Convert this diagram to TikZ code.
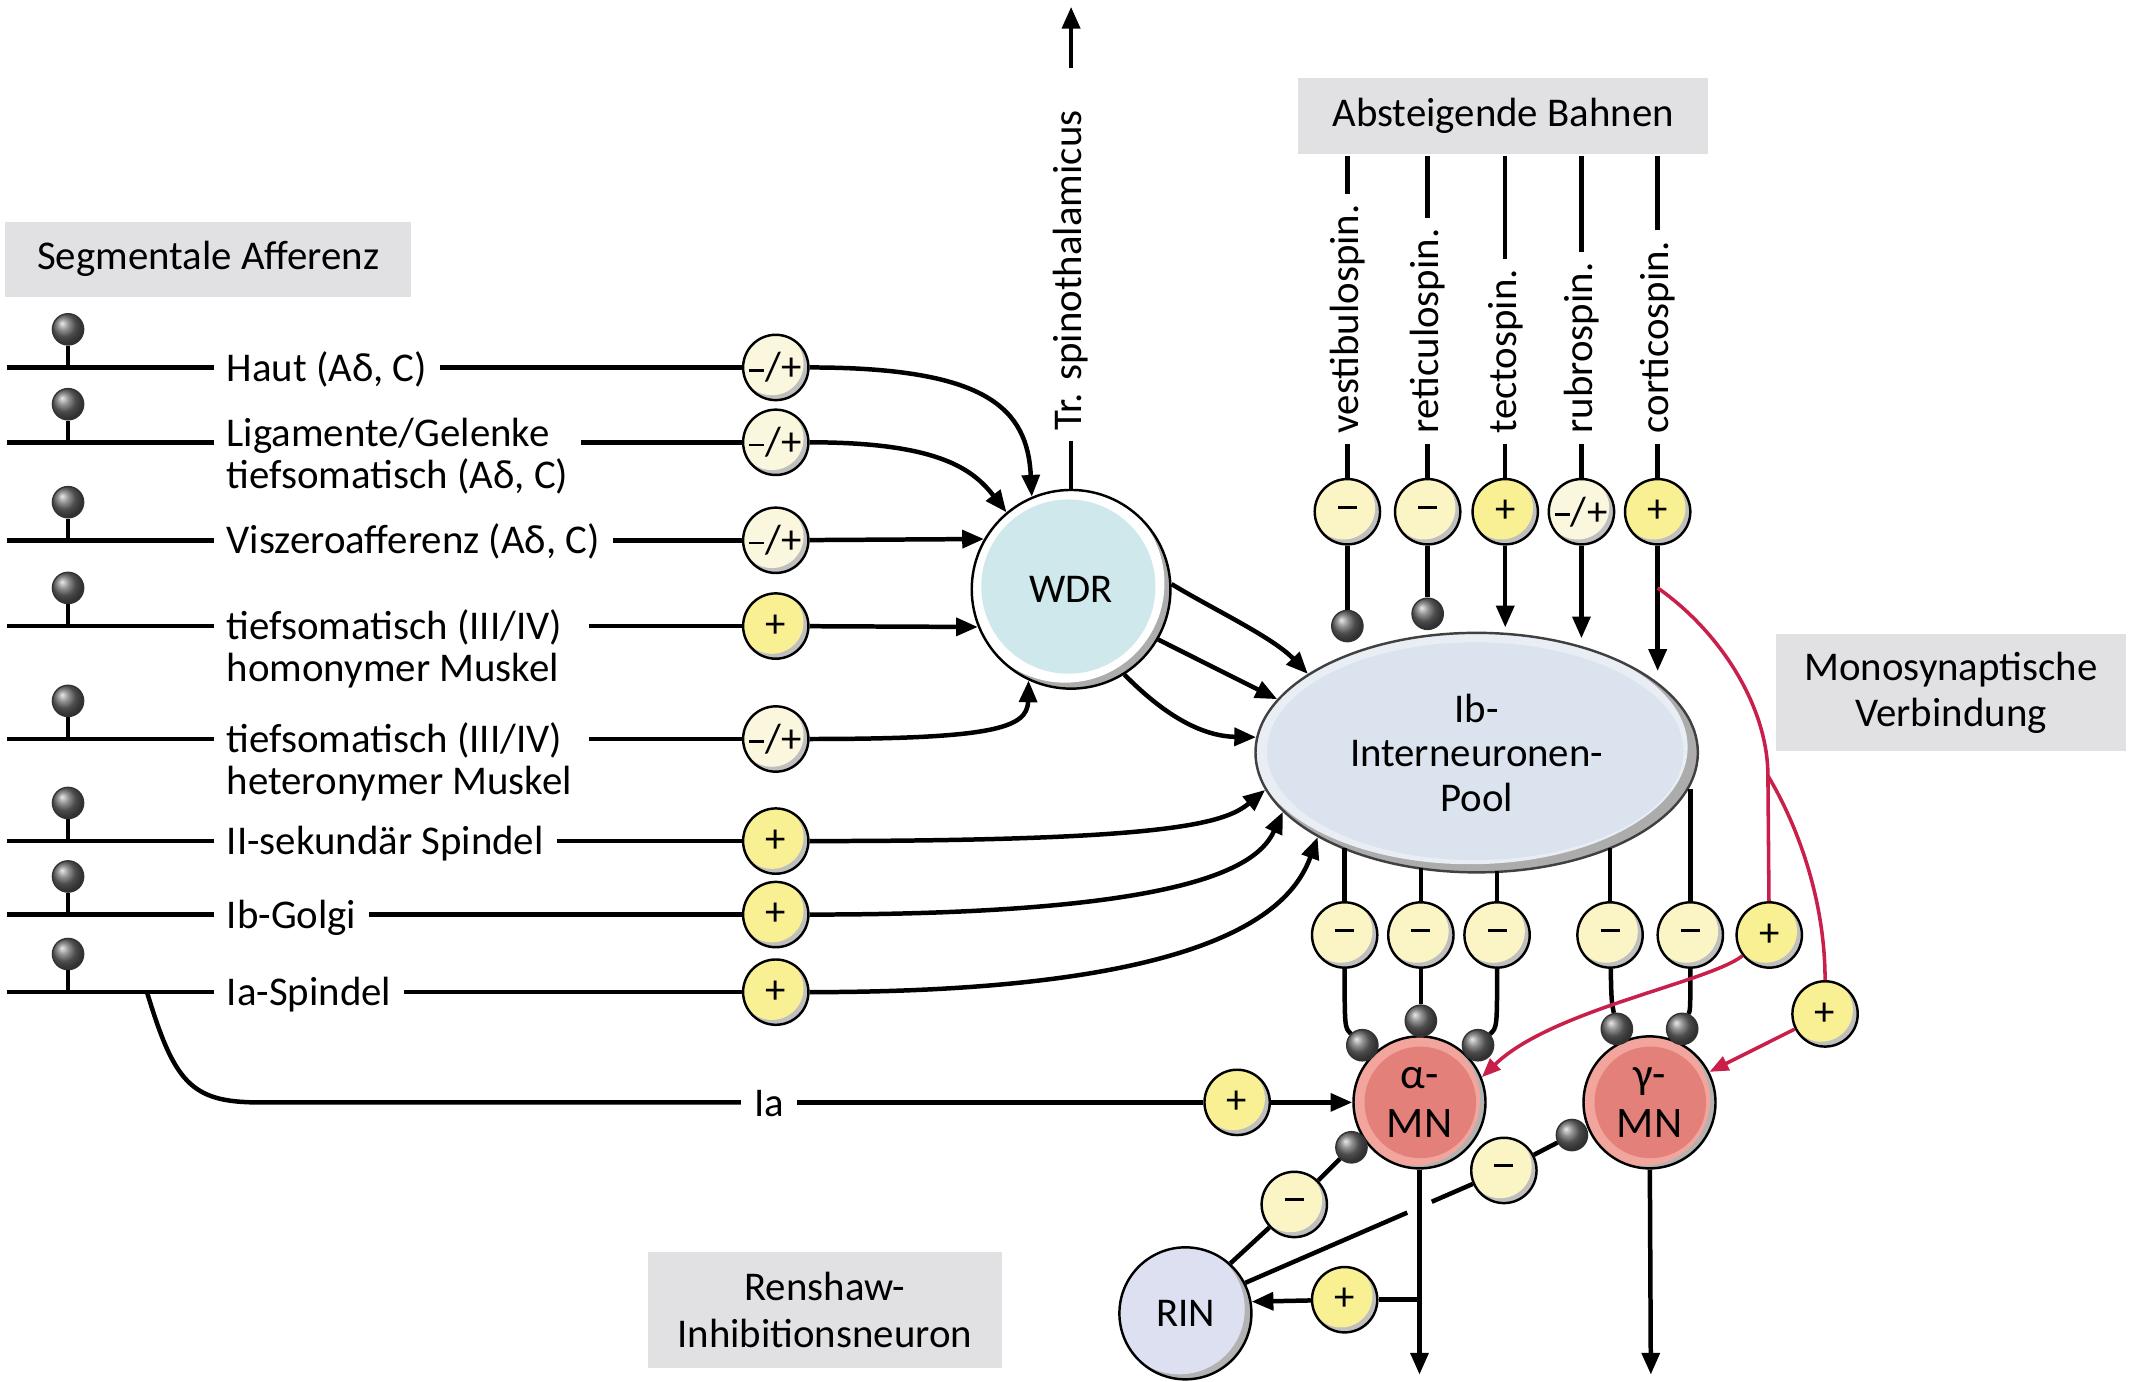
\documentclass[tikz,border=0pt]{standalone}
\usepackage{fontspec}
\setmainfont{Carlito}
\usetikzlibrary{arrows.meta,shapes.geometric,calc}
\definecolor{plusY}{HTML}{F9F093}
\definecolor{minusY}{HTML}{FBF5C6}
\definecolor{pmY}{HTML}{FBF7DE}
\definecolor{boxgray}{HTML}{E1E1E4}
\definecolor{wdrc}{HTML}{CFE8EB}
\definecolor{poolc}{HTML}{DAE3EE}
\definecolor{mnc}{HTML}{E3807A}
\definecolor{mnlight}{HTML}{F2A59C}
\definecolor{rinc}{HTML}{DCE0F1}
\definecolor{redc}{HTML}{C91F4B}
\newcommand\labf{\fontsize{15}{17}\selectfont}
\newcommand\poolf{\fontsize{15}{16.3}\selectfont}
\newcommand\symf{\fontsize{15}{15}\selectfont}
\newcommand\mnf{\fontsize{16}{18}\selectfont}
\newcommand\mnsign{\rule[3.4pt]{7pt}{1.1pt}}
\newcommand\pmsign{\rule[3.4pt]{5.5pt}{1pt}\kern0.3pt/\kern0.3pt+}
\begin{document}
\begin{tikzpicture}[x=0.5pt,y=-0.5pt,line width=1.65pt,
  lab/.style={font=\labf, inner xsep=4pt, inner ysep=0pt, anchor=base west},
  tract/.style={font=\labf, rotate=90, anchor=west, inner xsep=3pt, inner ysep=0pt},
  gbox/.style={fill=boxgray, align=center, font=\labf, inner sep=0pt},
  syn/.style={circle, draw=black, line width=0.9pt, minimum size=24pt, inner sep=0pt, font=\symf, fill=gray!50,
    path picture={\fill[#1] ($(path picture bounding box.center)+(-1.4pt,1.4pt)$) circle (11.6pt);}},
  sp/.style={syn=plusY},
  sm/.style={syn=minusY},
  spm/.style={syn=pmY},
  knob/.style={circle, minimum size=11.5pt, inner sep=0pt, shading=ball, ball color=gray!85!black, draw=black!80, line width=0.5pt},
  arr/.style={-{Triangle[length=8pt,width=6.5pt]}},
  redl/.style={draw=redc, line width=1.3pt},
  redarr/.style={draw=redc, line width=1.3pt, -{Triangle[length=7pt,width=5.5pt]}, color=redc},
  wdrs/.style={circle, draw=black, line width=0.9pt, minimum size=73pt, inner sep=0pt, font=\labf, fill=gray!65,
    path picture={\fill[white] ($(path picture bounding box.center)+(-2.2pt,2.2pt)$) circle (36.5pt);
      \fill[wdrc] ($(path picture bounding box.center)+(-1pt,1pt)$) circle (32pt);}},
  pools/.style={ellipse, draw=black!75, line width=0.9pt, minimum width=162.5pt, minimum height=88pt, inner sep=0pt,
    font=\poolf, align=center, fill=gray!65,
    path picture={\fill[poolc!60!white] ($(path picture bounding box.center)+(-2.5pt,2pt)$) ellipse [x radius=80pt, y radius=43pt];
      \fill[poolc] ($(path picture bounding box.center)+(-0.5pt,0.5pt)$) ellipse [x radius=76.5pt, y radius=40pt];}},
  mns/.style={circle, draw=black, line width=0.9pt, minimum size=48.5pt, inner sep=0pt, font=\mnf, align=center, fill=gray!60,
    path picture={\fill[mnlight] ($(path picture bounding box.center)+(-2pt,1pt)$) circle (24.25pt);
      \fill[mnc] ($(path picture bounding box.center)+(0.3pt,0pt)$) circle (20.5pt);}},
  rins/.style={circle, draw=black, line width=0.9pt, minimum size=48.5pt, inner sep=0pt, font=\labf, fill=gray!60,
    path picture={\fill[rinc] ($(path picture bounding box.center)+(-2.2pt,1.6pt)$) circle (24pt);}}
]
\useasboundingbox (0,0) rectangle (1568,1015);

% grey label boxes
\node[gbox, minimum width=149pt, minimum height=27.5pt] (bSeg) at (153,190.5) {Segmentale Afferenz};
\node[gbox, minimum width=150.5pt, minimum height=28pt] (bAbs) at (1104.5,85) {Absteigende Bahnen};
\node[gbox, minimum width=128.5pt, minimum height=43pt] (bMono) at (1433.5,509) {Monosynaptische\\Verbindung};
\node[gbox, minimum width=130pt, minimum height=42.5pt] (bRen) at (606,962.5) {Renshaw-\\Inhibitionsneuron};

% main neurons
\node[wdrs] (WDR) at (787,433) {WDR};
\node[pools] (Ib) at (1085,553) {Ib-\\Interneuronen-\\Pool};
\node[mns] (aMN) at (1043,810) {α-\\MN};
\node[mns] (gMN) at (1212,810) {γ-\\MN};
\node[rins] (RIN) at (871,965) {RIN};

% afferent rows
\coordinate (a1) at (5,270);
\coordinate (a2) at (5,325);
\coordinate (a3) at (5,397);
\coordinate (a4) at (5,460);
\coordinate (a5) at (5,543);
\coordinate (a6) at (5,618);
\coordinate (a7) at (5,672);
\coordinate (a8) at (5,729);
\node[knob] (k1) at (50,242) {};
\node[knob] (k2) at (50,297) {};
\node[knob] (k3) at (50,369) {};
\node[knob] (k4) at (50,432) {};
\node[knob] (k5) at (50,515) {};
\node[knob] (k6) at (50,590) {};
\node[knob] (k7) at (50,644) {};
\node[knob] (k8) at (50,701) {};
\node[lab] (t1) at (157,280) {Haut (Aδ, C)};
\node[lab] (t2) at (157,328) {Ligamente/Gelenke};
\node[lab] (t2b) at (157,359) {tiefsomatisch (Aδ, C)};
\node[lab] (t3) at (157,407) {Viszeroafferenz (Aδ, C)};
\node[lab] (t4) at (157,470) {tiefsomatisch (III/IV)};
\node[lab] (t4b) at (157,501) {homonymer Muskel};
\node[lab] (t5) at (157,553) {tiefsomatisch (III/IV)};
\node[lab] (t5b) at (157,584) {heteronymer Muskel};
\node[lab] (t6) at (157,628) {II-sekundär Spindel};
\node[lab] (t7) at (157,682) {Ib-Golgi};
\node[lab] (t8) at (157,739) {Ia-Spindel};
\node[spm] (s1) at (570,270) {\pmsign};
\node[spm] (s2) at (570,325) {\pmsign};
\node[spm] (s3) at (570,397) {\pmsign};
\node[sp] (s4) at (570,460) {+};
\node[spm] (s5) at (570,543) {\pmsign};
\node[sp] (s6) at (570,618) {+};
\node[sp] (s7) at (570,672) {+};
\node[sp] (s8) at (570,729) {+};
\foreach \i in {1,...,8}{
  \draw (a\i) -- (a\i -| t\i.west);
  \draw (k\i) -- (k\i |- a\i);
}
\draw (t1.east |- a1) -- (s1);
\draw (t2b.east |- a2) -- (s2);
\draw (t3.east |- a3) -- (s3);
\draw ([xshift=5pt]t4.east |- a4) -- (s4);
\draw ([xshift=5pt]t5.east |- a5) -- (s5);
\draw (t6.east |- a6) -- (s6);
\draw (t7.east |- a7) -- (s7);
\draw (t8.east |- a8) -- (s8);

% afferents into WDR
\draw[arr] (s1) .. controls (725,270) and (755,300) .. (WDR.113);
\draw[arr] (s2) .. controls (690,325) and (715,345) .. (WDR.130);
\draw[arr] (s3) -- (WDR.150);
\draw[arr] (s4) -- (WDR.202);
\draw[arr] (s5) .. controls (730,543) and (755,535) .. (WDR.245);
% afferents into Ib pool
\draw[arr] (s6) .. controls (860,618) and (900,605) .. (Ib.190);
\draw[arr] (s7) .. controls (880,672) and (925,635) .. (Ib.197);
\draw[arr] (s8) .. controls (900,729) and (950,665) .. (Ib.208);
% WDR to Ib pool
\draw[arr] (WDR.3) .. controls (890,447) and (935,468) .. (Ib.155);
\draw[arr] (WDR.-30) -- (Ib.165);
\draw[arr] (WDR.-58) .. controls (858,528) and (885,541) .. (Ib.176);

% Tr. spinothalamicus
\node[tract] (tr) at (787,324) {Tr. spinothalamicus};
\draw (WDR.north) -- (tr.west);
\coordinate (tra) at (787,50);
\coordinate (trb) at (787,5);
\draw[arr] (tra) -- (trb);

% descending tracts
\node[tract] (v1) at (990,326) {vestibulospin.};
\node[tract] (v2) at (1049,326) {reticulospin.};
\node[tract] (v3) at (1106,326) {tectospin.};
\node[tract] (v4) at (1162,326) {rubrospin.};
\node[tract] (v5) at (1218,326) {corticospin.};
\node[sm] (d1) at (990,376) {\mnsign};
\node[sm] (d2) at (1049,376) {\mnsign};
\node[sp] (d3) at (1106,376) {+};
\node[spm] (d4) at (1162,376) {\pmsign};
\node[sp] (d5) at (1218,376) {+};
\foreach \i in {1,...,5}{
  \draw (v\i.east) -- (v\i.east |- bAbs.south);
  \draw (v\i.west) -- (d\i);
}
\node[knob] (e1) at (990,460) {};
\node[knob] (e2) at (1049,451) {};
\coordinate (e3) at (1106,461);
\coordinate (e4) at (1162,469);
\coordinate (e5) at (1218,493);
\draw (d1) -- (e1);
\draw (d2) -- (e2);
\draw[arr] (d3) -- (e3);
\draw[arr] (d4) -- (e4);
\draw[arr] (d5) -- (e5);

% Ib pool outputs
\coordinate (q1) at (988,623);
\coordinate (q2) at (1044,638);
\coordinate (q3) at (1100,640);
\coordinate (q4) at (1183,623);
\coordinate (q5) at (1242,580);
\node[sm] (m1) at (988,687) {\mnsign};
\node[sm] (m2) at (1044,687) {\mnsign};
\node[sm] (m3) at (1100,687) {\mnsign};
\node[sm] (m4) at (1183,687) {\mnsign};
\node[sm] (m5) at (1242,687) {\mnsign};
\node[sp] (m6) at (1300,687) {+};
\node[sp] (p7) at (1341,745) {+};
\foreach \i in {1,...,5}{\draw (q\i) -- (m\i);}
\node[knob] (ka1) at (1001,768) {};
\node[knob] (ka2) at (1044,750) {};
\node[knob] (ka3) at (1086,768) {};
\node[knob] (kg1) at (1188,756) {};
\node[knob] (kg2) at (1236,756) {};
\draw (m1) .. controls (988,755) .. (ka1);
\draw (m2) -- (ka2);
\draw (m3) .. controls (1100,755) .. (ka3);
\draw (m4) .. controls (1184,735) .. (kg1);
\draw (m5) .. controls (1242,742) .. (kg2);

% monosynaptic (red)
\coordinate (rc0) at (1218,432);
\coordinate (rc1) at (1299,570);
\draw[redl] (rc0) .. controls (1265,465) and (1299,520) .. (rc1) -- (m6);
\draw[redl] (rc1) .. controls (1320,605) and (1341,660) .. (p7);
\draw[redarr] (m6) .. controls (1255,722) and (1140,742) .. (aMN.22);
\draw[redarr] (p7) -- (gMN.27);

% Ia direct
\coordinate (ia0) at (108,729);
\coordinate (ia1) at (190,810);
\node[lab, anchor=base] (ia) at (565,820) {Ia};
\node[sp] (p8) at (909,810) {+};
\draw (ia0) .. controls (128,795) and (140,810) .. (ia1) -- (ia1 -| ia.west);
\draw (ia1 -| ia.east) -- (p8);
\draw[arr] (p8) -- (aMN);

% motor axons
\coordinate (aout) at (1043,1010);
\coordinate (gout) at (1213,1010);
\draw[arr] (aMN) -- (aout);
\draw[arr] (gMN) -- (gout);

% Renshaw circuit
\coordinate (ab) at (1043,955);
\node[sp] (p9) at (988,955) {+};
\draw (ab) -- (p9);
\draw[arr] (p9) -- (RIN.10);
\node[sm] (n1) at (951,885) {\mnsign};
\node[knob] (kr1) at (993,843) {};
\draw (RIN.48) -- (n1);
\draw (n1) -- (kr1);
\node[sm] (n2) at (1105,860) {\mnsign};
\node[knob] (kr2) at (1155,834) {};
\coordinate (gA) at (1034,891);
\coordinate (gB) at (1052,883);
\draw (RIN.27) -- (gA);
\draw (gB) -- (n2);
\draw (n2) -- (kr2);
\end{tikzpicture}
\end{document}
